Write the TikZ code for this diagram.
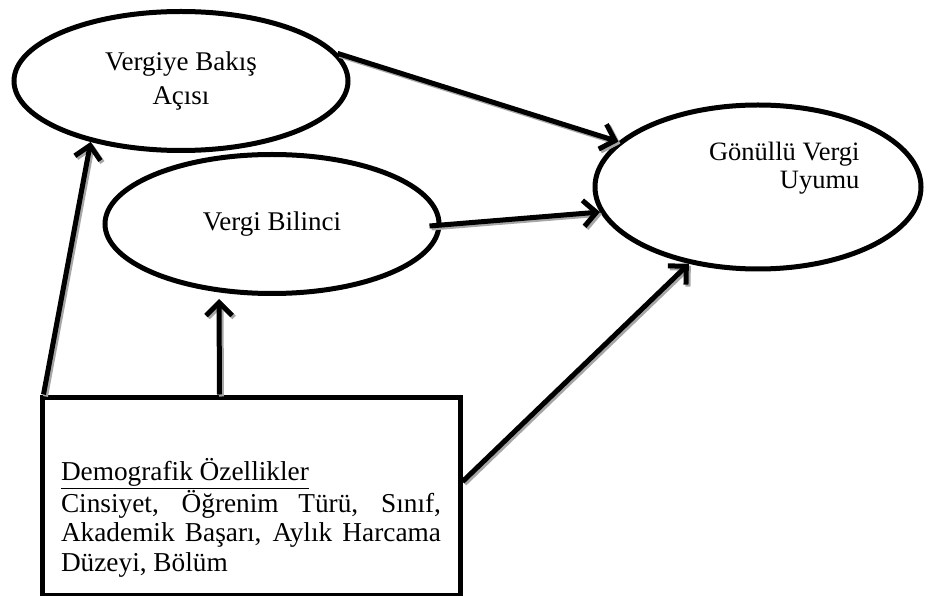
\documentclass[tikz,border=0pt]{standalone}
\usepackage{fontspec}
\setmainfont{Liberation Serif}
\usetikzlibrary{calc}
\usetikzlibrary{arrows.meta}
\usetikzlibrary{shapes.geometric}
\tikzset{
	yol/.style={line width=5pt,-{Straight Barb[length=13pt,width=26pt]}},
	golge/.style={yol,draw=black!35,transform canvas={shift={(2pt,-2pt)}}},
}
% ok with a grey shadow under it
\newcommand{\okciz}[2]{\draw[golge] #1 -- #2; \draw[yol] #1 -- #2;}

\begin{document}
\begin{tikzpicture}[x=1pt,y=1pt,
	oval/.style={draw,ellipse,line width=5pt,inner sep=0pt,align=center,font=\fontsize{27}{34}\selectfont}]
		\useasboundingbox (0,0) rectangle (937,595);
		\node[oval,minimum width=334pt,minimum height=139pt] (bakis) at (181,514) {Vergiye Bakış\\Açısı};
		\node[oval,minimum width=334pt,minimum height=139pt] (bilinc) at (272,371) {Vergi Bilinci};
		\node[oval,minimum width=326pt,minimum height=164pt] (uyum) at (758,408) {};
		\node[align=right,anchor=east,font=\fontsize{26.5}{28}\selectfont] (uyumyazi) at ($ (uyum.center) + (105,19) $) {Gönüllü Vergi\\Uyumu};
		\node[draw,line width=5pt,inner xsep=19pt,inner ysep=19pt,anchor=north west,font=\fontsize{27.3}{29.5}\selectfont] (demo) at (39.5,200.5)
			{\parbox[c][155pt][b]{380pt}{\hyphenpenalty=10000 \underline{Demografik Özellikler}\\ Cinsiyet, Öğrenim Türü, Sınıf, Akademik Başarı, Aylık Harcama Düzeyi, Bölüm}};
		\okciz{(bakis.10)}{(uyum.162)}
		\okciz{($ (bilinc.east) + (-12,-2) $)}{(uyum.189)}
		\okciz{(demo.4)}{(uyum.228)}
		\okciz{($ (demo.north west) + (4,0) $)}{(bakis.214)}
		\okciz{($ (demo.north west) + (180,0) $)}{($ (bilinc.south) + (-53,-3) $)}
	\end{tikzpicture}
\end{document}
